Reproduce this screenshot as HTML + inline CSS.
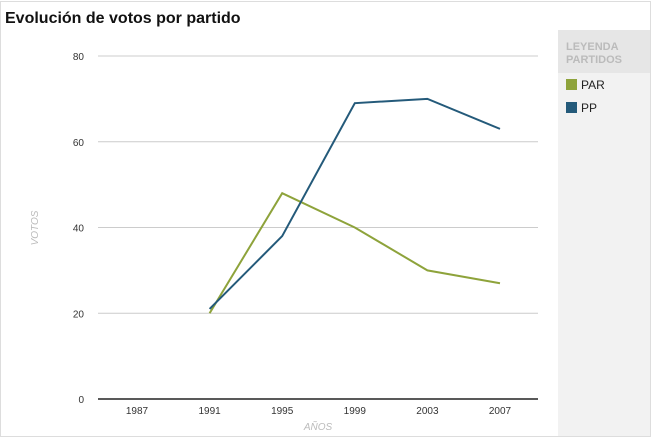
<!DOCTYPE html>
<html><head><meta charset="utf-8"><style>
body{margin:0;width:652px;height:441px;background:#fff;font-family:"Liberation Sans",Arial,sans-serif;overflow:hidden}
</style></head><body>
<svg width="652" height="441">
<rect x="0.5" y="1.5" width="650" height="435" fill="#fff" stroke="#ddd"/>
<text x="5" y="23" font-size="16" font-weight="bold" fill="#111">Evolución de votos por partido</text>
<rect x="558" y="30" width="92" height="406" fill="#f2f2f2"/>
<rect x="558" y="30" width="92" height="43" fill="#e6e6e6"/>
<text x="566" y="50" font-size="11" font-weight="bold" fill="#bbb">LEYENDA</text>
<text x="566" y="63" font-size="11" font-weight="bold" fill="#bbb">PARTIDOS</text>
<g><rect x="566" y="79" width="11" height="11" fill="#8ea33b"/><text x="581" y="89" font-size="12" fill="#222">PAR</text></g>
<g><rect x="566" y="102" width="11" height="11" fill="#245a7a"/><text x="581" y="112" font-size="12" fill="#222">PP</text></g>
<g id="grid"></g><g id="series"></g>
<text transform="translate(38,228) rotate(-90)" text-anchor="middle" font-size="10" font-style="italic" fill="#bbb">VOTOS</text>
<text x="318" y="430" text-anchor="middle" font-size="10" font-style="italic" fill="#bbb">AÑOS</text>
</svg>
<script>
const categories=["1987","1991","1995","1999","2003","2007"];
const yTicks=[0,20,40,60,80];
const parValues=[null,20,48,40,30,27];
const ppValues=[null,21,38,69,70,63];
const NS="http://www.w3.org/2000/svg";
const y=v=>399-v*(343/80);
const x=i=>137+i*72.6;
const grid=document.getElementById('grid');
function mk(t,a,p){const e=document.createElementNS(NS,t);for(const k in a)e.setAttribute(k,a[k]);p.appendChild(e);return e;}
yTicks.forEach(v=>{
 const l=mk('line',{x1:98,x2:538,y1:y(v),y2:y(v),stroke:v===0?'#222':'#ccc','stroke-width':v===0?1.5:1},grid);
 
 
 const t=mk('text',{x:84,y:y(v)+4,'text-anchor':'end','font-size':10,fill:'#333'},grid);
 t.textContent=v;
 
 
});
categories.forEach((c,i)=>{
 const t=mk('text',{x:x(i),y:414,'text-anchor':'middle','font-size':10,fill:'#333'},grid);
 t.textContent=c;
 
 
});
const ser=document.getElementById('series');
[[parValues,'#8ea33b','par'],[ppValues,'#245a7a','pp']].forEach(([vals,col,n])=>{
 const pts=vals.map((v,i)=>v==null?null:x(i)+','+y(v)).filter(Boolean).join(' ');
 const p=mk('polyline',{points:pts,fill:'none',stroke:col,'stroke-width':2},ser);
 
 
});
</script>
</body></html>
